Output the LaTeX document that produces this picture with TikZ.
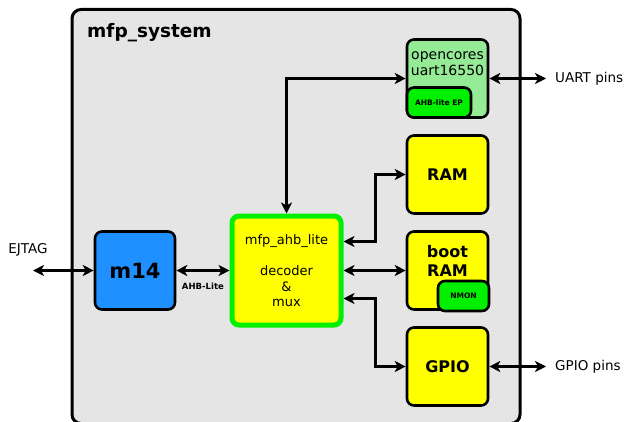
\documentclass[tikz,border=0pt]{standalone}
\usepackage{fontspec}
\setmainfont{DejaVu Sans}
\usetikzlibrary{arrows.meta}
\definecolor{sysgray}{HTML}{E5E5E5}
\definecolor{cpublue}{HTML}{1E90FF}
\definecolor{lightgrn}{HTML}{95EA95}
\definecolor{brightgrn}{HTML}{00F000}
\definecolor{busyellow}{HTML}{FFFF00}
\tikzset{
  blk/.style={draw=black, line width=2.6pt, rounded corners=7pt, inner sep=0pt},
  conn/.style={line width=2.4pt, {Stealth[length=11pt,width=11pt,inset=3pt]}-{Stealth[length=11pt,width=11pt,inset=3pt]}},
  lbl/.style={font=\fontsize{13.5}{15}\selectfont, inner sep=0pt},
}
\begin{document}
\begin{tikzpicture}[x=1pt,y=-1pt]
\useasboundingbox (0,0) rectangle (628,422);
% enclosing system
\node[blk, fill=sysgray, line width=3pt, rounded corners=9pt, minimum width=448, minimum height=414, anchor=north west] (sys) at (70.5,8) {};
\node[anchor=west, font=\bfseries\fontsize{18.5}{21}\selectfont, inner sep=0pt] (title) at (87,33) {mfp\_system};
% cpu
\node[blk, fill=cpublue, minimum width=80, minimum height=78] (m14) at (135,270.5) {};
\node[font=\bfseries\fontsize{21}{24}\selectfont, inner sep=0pt] (m14t) at (135,271) {m14};
% bus
\node[blk, fill=busyellow, draw=brightgrn, line width=5pt, minimum width=109, minimum height=109] (ahb) at (286.5,270.5) {};
\node[align=center, font=\fontsize{13}{15.5}\selectfont, inner sep=0pt] (ahbt) at (286.5,271) {mfp\_ahb\_lite\\[15.5pt]decoder\\\&\\mux};
% uart
\node[blk, fill=lightgrn, minimum width=81, minimum height=78] (uart) at (447.5,78.5) {};
\node[align=center, font=\fontsize{14}{16}\selectfont, inner sep=0pt] (uartt) at (447.5,64) {opencores\\uart16550};
\node[blk, fill=brightgrn, minimum width=64, minimum height=30, anchor=south west] (ep) at (uart.south west) {};
\node[font=\bfseries\fontsize{7.5}{9}\selectfont, inner sep=0pt] (ept) at (ep.center) {AHB-lite EP};
% memories
\node[blk, fill=busyellow, minimum width=81, minimum height=78] (ram) at (447.5,174.5) {};
\node[font=\bfseries\fontsize{16}{18}\selectfont, inner sep=0pt] (ramt) at (447.5,175) {RAM};
\node[blk, fill=busyellow, minimum width=81, minimum height=78] (boot) at (447.5,270.5) {};
\node[align=center, font=\bfseries\fontsize{16}{19}\selectfont, inner sep=0pt] (boott) at (447.5,261) {boot\\RAM};
\node[blk, fill=brightgrn, minimum width=51, minimum height=30, anchor=south east] (nmon) at ([xshift=1pt,yshift=-1.5pt]boot.south east) {};
\node[font=\bfseries\fontsize{7.5}{9}\selectfont, inner sep=0pt] (nmont) at (nmon.center) {NMON};
% gpio
\node[blk, fill=busyellow, minimum width=81, minimum height=78] (gpio) at (447.5,366.5) {};
\node[font=\bfseries\fontsize{16}{18}\selectfont, inner sep=0pt] (gpiot) at (447.5,367) {GPIO};
% external pins
\coordinate (ejtag) at (33,270.5);
\coordinate (upins) at (546,78.5);
\coordinate (gpins) at (546,366.5);
\node[lbl, anchor=center] (ejtagt) at (28,250) {EJTAG};
\node[lbl, anchor=west] (upinst) at (555,79) {UART pins};
\node[lbl, anchor=west] (gpinst) at (555,367) {GPIO pins};
% connections
\draw[conn] (ejtag) -- (m14.west);
\draw[conn] (m14.east) -- (ahb.west) node[midway, below=11pt, font=\bfseries\fontsize{8.5}{10}\selectfont, inner sep=0pt] {AHB-Lite};
\draw[conn] (ahb.north) |- (uart.west);
\draw[conn] (uart.east) -- (upins);
\draw[conn] ([yshift=29pt]ahb.east) -- ++(32,0) |- (ram.west);
\draw[conn] (ahb.east) -- (boot.west);
\draw[conn] ([yshift=-28pt]ahb.east) -- ++(32,0) |- (gpio.west);
\draw[conn] (gpio.east) -- (gpins);
\end{tikzpicture}
\end{document}
